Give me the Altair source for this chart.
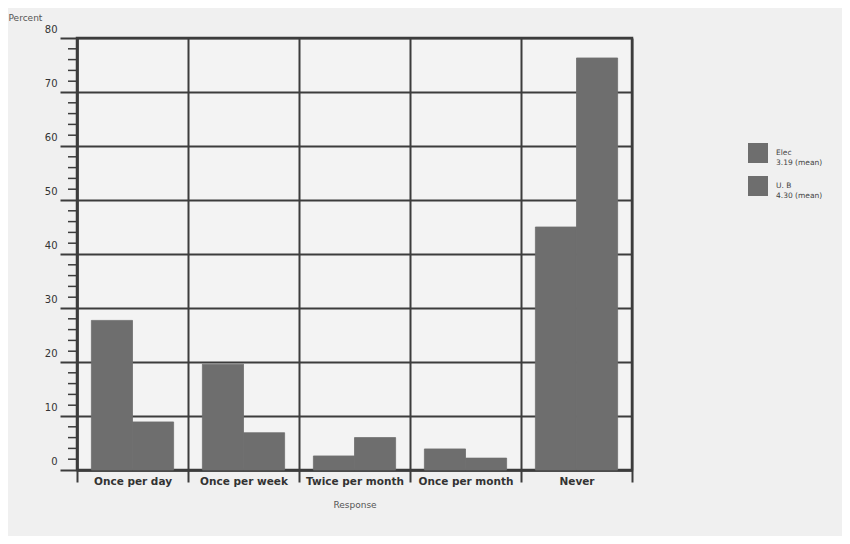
import altair as alt
import pandas as pd

categories = ["Once per day", "Once per week", "Twice per month", "Once per month", "Never"]
groups = ["Elec", "U. B"]
elec = [27.7, 19.6, 2.6, 3.9, 45.0]
ub = [8.9, 6.9, 6.0, 2.2, 76.3]
legend_lines = {"Elec": ["Elec", "3.19 (mean)"], "U. B": ["U. B", "4.30 (mean)"]}
y_major = list(range(0, 81, 10))
y_minor = [v for v in range(0, 81, 2) if v % 10 != 0]

rows = []
for c, e, u in zip(categories, elec, ub):
    rows.append({"Response": c, "Group": "Elec", "Percent": e})
    rows.append({"Response": c, "Group": "U. B", "Percent": u})
df = pd.DataFrame(rows)
minor_df = pd.DataFrame({"Percent": y_minor})

GRID = "#3c3c3c"
BAR = "#6e6e6e"
TXT = "#333333"

label_expr = ("datum.label == 'Elec' ? " + str(legend_lines["Elec"]) +
              " : " + str(legend_lines["U. B"]))

y_axis = alt.Axis(values=y_major, title="Percent", grid=True,
                  gridColor=GRID, gridWidth=2, gridOpacity=1,
                  domainColor=GRID, domainWidth=2.5,
                  tickColor=GRID, tickWidth=2, tickSize=17,
                  labelPadding=3, labelBaseline="middle", labelOffset=-9,
                  labelFont="DejaVu Sans", labelFontSize=10, labelColor=TXT,
                  titleAngle=0, titleAlign="left", titleBaseline="middle",
                  titleX=-69, titleY=-21, titleFont="DejaVu Sans",
                  titleFontSize=9, titleFontWeight="normal", titleColor="#555555")
y_scale = alt.Scale(domain=[0, 80], nice=False)

bars = alt.Chart(df).mark_bar(opacity=1, stroke=BAR, strokeWidth=0.8).encode(
    x=alt.X("Response:N", sort=categories,
            scale=alt.Scale(paddingInner=0, paddingOuter=0),
            axis=alt.Axis(title="Response", tickBand="extent", grid=True,
                          gridColor=GRID, gridWidth=2, gridOpacity=1,
                          domainColor=GRID, domainWidth=2.5,
                          tickColor=GRID, tickWidth=2, tickSize=12,
                          labelAngle=0, labelPadding=-6, labelFont="DejaVu Sans",
                          labelFontWeight="bold", labelFontSize=10.5, labelColor=TXT,
                          titleFont="DejaVu Sans", titleFontSize=9, titleFontWeight="normal",
                          titleColor="#555555", titlePadding=14)),
    xOffset=alt.XOffset("Group:N", sort=groups,
                        scale=alt.Scale(paddingInner=0, paddingOuter=0.35)),
    y=alt.Y("Percent:Q", scale=y_scale, axis=y_axis),
    color=alt.Color("Group:N",
                    scale=alt.Scale(domain=groups, range=[BAR, BAR]),
                    legend=alt.Legend(title=None, orient="none", legendX=671, legendY=105,
                                      symbolType="square", symbolSize=400,
                                      symbolStrokeWidth=0, symbolOpacity=1,
                                      rowPadding=10, labelExpr=label_expr,
                                      labelFont="DejaVu Sans", labelFontSize=7.5,
                                      labelColor="#444444", labelOffset=8)),
)

minor = alt.Chart(minor_df).mark_rule(color=GRID, strokeWidth=1.5).encode(
    y=alt.Y("Percent:Q", scale=y_scale, axis=y_axis),
    x=alt.value(-9),
    x2=alt.value(-1),
)

chart = alt.layer(bars, minor).properties(
    width=555, height=432,
    padding={"left": 69, "top": 30, "right": 210, "bottom": 66},
    autosize=alt.AutoSizeParams(type="none"),
    background="#f0f0f0",
).configure_view(stroke=GRID, strokeWidth=2.5, fill="#f3f3f3")

chart.save("out.html", embed_options={"renderer": "svg", "actions": False})
